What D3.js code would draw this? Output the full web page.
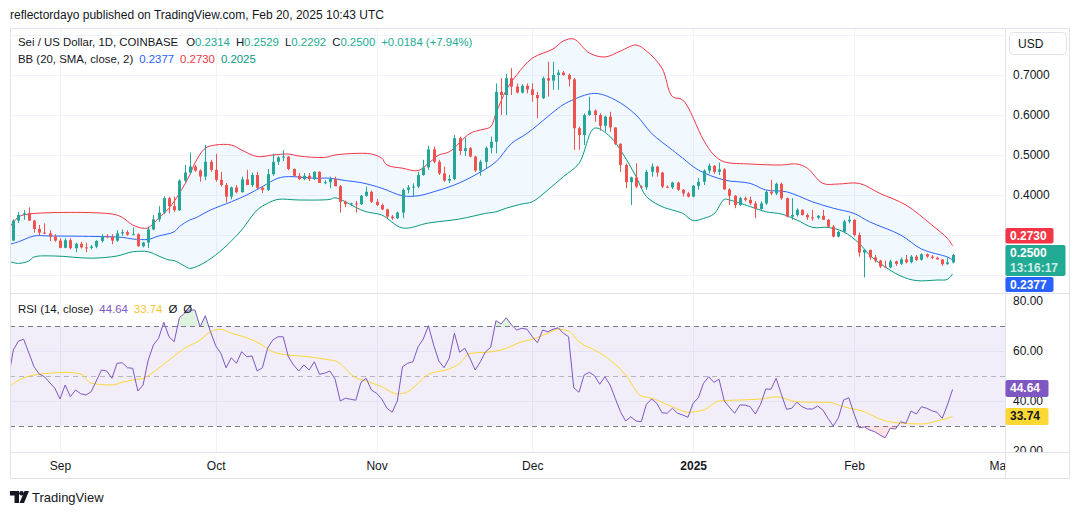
<!DOCTYPE html>
<html>
<head>
<meta charset="utf-8">
<script src="https://d3js.org/d3.v7.min.js"></script>
<style>
  body { margin: 0; background: #ffffff; }
  svg { display: block; font-family: "Liberation Sans", Arial, sans-serif; }
</style>
</head>
<body>
<script>
// ---- data (SEI/USD daily, Coinbase) ----
// candles are [open, high, low, close], one per day starting Aug 23 2024
var augCandles = [
  [.286,.339,.285,.336],[.336,.358,.330,.350],[.350,.362,.338,.354],[.354,.369,.335,.336],
  [.336,.338,.306,.315],[.315,.325,.298,.306],[.306,.329,.302,.304],[.304,.312,.285,.296],
  [.296,.302,.283,.286]
];
var sepCandles = [
  [.286,.292,.267,.268],[.268,.292,.267,.287],[.287,.292,.264,.267],[.267,.281,.257,.278],
  [.278,.283,.266,.269],[.269,.281,.257,.268],[.268,.275,.264,.271],[.271,.287,.267,.285],
  [.285,.302,.281,.297],[.297,.302,.292,.295],[.295,.302,.277,.286],[.286,.312,.283,.304],
  [.304,.314,.298,.307],[.307,.312,.298,.301],[.301,.319,.300,.302],[.302,.304,.271,.272],
  [.272,.283,.269,.281],[.281,.321,.267,.314],[.314,.350,.312,.339],[.339,.372,.333,.356],
  [.356,.397,.352,.392],[.392,.396,.354,.372],[.372,.396,.358,.362],[.362,.439,.360,.436],
  [.436,.475,.430,.456],[.456,.506,.452,.471],[.471,.475,.458,.461],[.461,.464,.433,.446],
  [.446,.525,.437,.483],[.483,.488,.458,.463]
];
var octCandles = [
  [.463,.503,.433,.438],[.438,.458,.421,.425],[.425,.430,.381,.396],[.396,.421,.389,.419],
  [.419,.425,.404,.407],[.407,.446,.406,.439],[.439,.463,.425,.425],[.425,.456,.420,.450],
  [.450,.458,.415,.418],[.418,.423,.405,.413],[.413,.465,.410,.452],[.452,.503,.448,.483],
  [.483,.497,.475,.494],[.494,.512,.485,.496],[.496,.497,.462,.465],[.465,.466,.446,.448],
  [.448,.455,.437,.440],[.440,.455,.437,.448],[.448,.455,.435,.440],[.440,.459,.437,.458],
  [.458,.459,.430,.430],[.430,.437,.427,.432],[.432,.446,.417,.440],[.440,.446,.422,.422],
  [.422,.425,.356,.383],[.383,.386,.370,.377],[.377,.381,.373,.379],[.379,.385,.356,.377],
  [.377,.400,.375,.398],[.398,.421,.396,.408],[.408,.411,.380,.383]
];
var novCandles = [
  [.383,.390,.372,.375],[.375,.379,.362,.364],[.364,.366,.342,.346],[.346,.350,.338,.342],
  [.342,.358,.340,.356],[.356,.417,.342,.413],[.413,.425,.404,.419],[.419,.429,.396,.421],
  [.421,.458,.417,.450],[.450,.488,.448,.469],[.469,.523,.463,.514],[.514,.521,.479,.483],
  [.483,.488,.450,.454],[.454,.471,.433,.436],[.436,.450,.430,.440],[.440,.550,.437,.542],
  [.542,.546,.500,.510],[.510,.543,.498,.517],[.517,.520,.494,.496],[.496,.498,.458,.461],
  [.461,.488,.448,.483],[.483,.521,.467,.518],[.518,.546,.504,.533],[.533,.679,.504,.658],
  [.658,.692,.600,.650],[.650,.703,.600,.692],[.692,.717,.650,.671],[.671,.679,.654,.656],
  [.656,.677,.654,.673],[.673,.679,.654,.664]
];
var decCandles = [
  [.664,.679,.633,.650],[.650,.658,.592,.642],[.642,.696,.640,.692],[.692,.733,.646,.686],
  [.686,.733,.663,.700],[.700,.713,.663,.706],[.706,.710,.698,.700],[.700,.704,.671,.689],
  [.689,.692,.513,.567],[.567,.571,.513,.550],[.550,.604,.525,.600],[.600,.646,.598,.611],
  [.611,.614,.583,.600],[.600,.604,.561,.573],[.573,.598,.558,.596],[.596,.608,.558,.569],
  [.569,.569,.525,.528],[.528,.529,.458,.475],[.475,.479,.417,.432],[.432,.446,.375,.444],
  [.444,.479,.417,.421],[.421,.424,.417,.419],[.419,.463,.413,.458],[.458,.479,.446,.471],
  [.471,.473,.446,.456],[.456,.458,.417,.421],[.421,.424,.417,.419],[.419,.433,.415,.431],
  [.431,.433,.410,.413],[.413,.415,.396,.404],[.404,.408,.394,.396]
];
var janCandles = [
  [.396,.425,.394,.423],[.423,.442,.413,.433],[.433,.464,.425,.461],[.461,.479,.454,.473],
  [.473,.475,.453,.458],[.458,.481,.450,.464],[.464,.467,.413,.414],[.414,.417,.375,.398],
  [.398,.400,.367,.375],[.375,.396,.373,.392],[.392,.396,.384,.388],[.388,.396,.375,.379],
  [.379,.385,.342,.365],[.365,.384,.363,.379],[.379,.411,.375,.408],[.408,.438,.400,.404],
  [.404,.431,.400,.428],[.428,.431,.388,.392],[.392,.394,.344,.346],[.346,.392,.338,.350],
  [.350,.367,.346,.363],[.363,.364,.349,.350],[.350,.354,.338,.344],[.344,.363,.336,.343],
  [.343,.350,.339,.348],[.348,.363,.338,.338],[.338,.340,.318,.321],[.321,.325,.294,.296],
  [.296,.310,.294,.308],[.308,.338,.306,.334],[.334,.348,.329,.338]
];
var febCandles = [
  [.338,.339,.296,.300],[.300,.306,.246,.256],[.256,.264,.194,.263],[.263,.263,.238,.244],
  [.244,.250,.231,.236],[.236,.238,.217,.221],[.221,.236,.217,.219],[.219,.238,.217,.234],
  [.234,.236,.223,.228],[.228,.244,.225,.239],[.239,.250,.229,.232],[.232,.250,.229,.246],
  [.246,.250,.235,.238],[.238,.254,.236,.252],[.252,.254,.243,.246],[.246,.250,.240,.243],
  [.243,.246,.238,.239],[.239,.240,.223,.227],[.227,.244,.226,.2314],[.2314,.2529,.2292,.2500]
];

// Bollinger bands (20, 2) as [day index, value]
var upperBand = [[-0.6,.321],[1,.345],[3,.3525],[19,.3525],[21,.344],[23,.325],[25,.317],[26,.318],
  [28,.342],[30,.367],[32,.404],[34,.45],[35,.48],[37,.517],[39,.525],[42,.525],[44,.5125],[47,.496],
  [50,.50],[53,.5025],[55,.4975],[60,.494],[62,.50],[66,.504],[69,.5025],[71,.492],[72,.475],[75,.467],
  [78,.461],[80,.479],[82,.50],[84,.508],[88,.554],[90,.5625],[92,.571],[93,.604],[95,.6625],[97,.70],
  [100,.742],[104,.765],[106,.785],[108,.79],[111,.755],[114,.745],[117,.76],[120,.775],[122,.76],
  [125,.717],[127,.646],[129,.6375],[133,.5375],[135,.50],[137,.483],[142,.4775],[148,.475],[151,.4775],
  [153,.467],[156,.429],[159,.4275],[163,.429],[167,.404],[172,.375],[177,.325],[180,.2915],[181,.273]];
var basisBand = [[-0.6,.277],[1,.283],[4,.2975],[7,.2975],[17,.296],[21,.294],[23,.29],[26,.289],
  [28,.2975],[31,.308],[32,.321],[34,.3375],[35,.342],[38,.3625],[42,.383],[45,.40],[48,.421],[51,.442],
  [53,.446],[58,.442],[61,.442],[64,.436],[67,.431],[71,.417],[75,.398],[78,.398],[81,.408],[85,.425],
  [89,.45],[93,.483],[96,.529],[99,.554],[103,.596],[105,.617],[107,.633],[112,.654],[116,.6375],
  [120,.60],[123,.554],[127,.5125],[129,.492],[132,.4625],[137,.4375],[142,.429],[145,.4125],[149,.408],
  [154,.383],[158,.367],[162,.354],[165,.333],[171,.30],[175,.265],[180,.245],[181,.2377]];
var lowerBand = [[-0.6,.233],[1,.229],[3,.235],[4,.245],[8,.2475],[15,.242],[20,.2475],[23,.258],
  [26,.258],[28,.2475],[30,.2375],[31,.236],[33,.2225],[34,.2165],[36,.225],[39,.25],[42,.285],
  [44,.3125],[47,.3625],[49,.379],[51,.389],[55,.3875],[61,.389],[62,.393],[64,.383],[66,.369],
  [68,.358],[71,.35],[75,.3175],[80,.33],[86,.34],[91,.354],[93,.358],[95,.367],[98,.3775],[100,.383],
  [103,.4125],[106,.446],[109,.479],[112,.567],[115,.546],[117,.5125],[120,.446],[122,.396],[125,.371],
  [127,.3625],[129,.354],[131,.336],[133,.3415],[135,.3525],[137,.389],[138,.3875],[142,.371],
  [145,.358],[148,.3525],[151,.3375],[154,.319],[157,.319],[160,.308],[163,.279],[165,.25],[167,.229],
  [171,.1975],[174,.186],[178,.1875],[180,.189],[181,.2025]];

// RSI (14) and its moving average, [day index, value]
var rsiPoints = [[-0.6,53.1],[0,60.4],[1,64],[2,64.7],[4,53.7],[5,50.8],[6,49.7],[8,45.1],[9,40.8],
  [10,46.4],[11,41.7],[12,44.4],[13,42.9],[14,42.4],[15,43.7],[17,52.4],[18,52],[19,49.1],[20,55.1],
  [21,55.3],[22,53.3],[23,53.1],[24,44],[25,46.4],[26,56.4],[27,62.4],[28,65.1],[29,71.5],[30,65.7],
  [31,63.7],[32,73.3],[33,75.1],[34,76.4],[35,76.4],[36,69.7],[37,74.1],[38,67.7],[39,62.1],[40,59.1],
  [41,53.3],[42,57.3],[43,55.1],[44,59.7],[45,57.7],[46,58],[47,52],[48,53.3],[49,61.1],[50,64.4],
  [51,65.7],[52,65.7],[53,57.7],[54,54.4],[55,52],[56,54.4],[57,52.4],[58,55.7],[59,50.7],[60,51.1],
  [61,52],[62,48.8],[63,40],[64,41.1],[65,40.7],[66,40.3],[67,47.5],[68,49.1],[69,44.4],[70,43.1],
  [71,40.8],[72,37.1],[73,35.5],[74,40],[75,53.7],[76,55.1],[77,55.7],[78,61.7],[79,64.8],[80,70.1],
  [81,62.4],[82,56],[83,53.3],[84,57.1],[85,67.1],[86,59.5],[87,61.1],[88,57.1],[89,52.4],[90,55.7],
  [91,59.7],[92,61.5],[93,72.1],[94,70.8],[95,73.3],[96,70.4],[97,68.4],[98,69.1],[99,68.7],[100,65.7],
  [101,63.3],[102,68.4],[103,67.7],[104,68.7],[105,69.3],[106,67.1],[107,65.7],[108,45.3],[109,43.5],
  [110,50.4],[111,51.5],[112,50.1],[113,46.7],[114,49.7],[115,46.4],[116,41],[117,35.7],[118,32],
  [119,33.7],[120,32],[121,31.7],[122,38.7],[123,40.8],[124,39.1],[125,35.3],[126,35.1],[127,37.1],
  [128,35.1],[129,34.4],[130,33.5],[131,39.1],[132,41.3],[133,47.1],[134,49.7],[135,47.5],[136,48.7],
  [137,40],[138,37.5],[139,35.1],[140,38.4],[141,38.4],[142,37.7],[143,34.8],[144,38.7],[145,44.8],
  [146,44.7],[147,49.1],[148,42.7],[149,36.7],[150,37.1],[151,39.5],[152,37.7],[153,36.8],[154,36.8],
  [155,38],[156,36.4],[157,33.1],[158,30],[159,33.3],[160,40.4],[161,41.3],[162,35],[163,29.3],
  [164,29.6],[165,28.4],[166,27.7],[167,26.4],[168,25.3],[169,29.1],[170,28.8],[171,31.7],[172,31.1],
  [173,36],[174,34.8],[175,37.7],[176,37.1],[177,36.1],[178,35.5],[179,33.1],[180,38.4],[181,44.64]];
var rsiMaPoints = [[-0.6,46.1],[2,49.3],[4,50.4],[7,51.1],[10,51.5],[13,50.8],[15,47.1],[19,46.4],
  [21,47.5],[23,48.4],[25,49.1],[28,53.1],[30,56.4],[33,61.1],[36,64.4],[38,67.7],[40,68.7],[42,67.1],
  [45,65.3],[48,62.4],[50,59.7],[53,58.4],[57,57.7],[61,56.4],[62,56.1],[66,49.3],[68,48],[71,45.7],
  [74,42.8],[76,43.7],[78,47.1],[80,50.7],[84,52.8],[86,55.1],[88,59.1],[91,59.5],[94,60.4],[98,63.7],
  [100,64.7],[103,67.1],[105,68.7],[107,68],[109,63.7],[112,60.4],[115,56.4],[118,50.4],[121,42],
  [123,41.1],[127,37.7],[130,35.5],[133,36.4],[136,40],[140,40.4],[144,40.8],[147,41.7],[151,39.7],
  [154,39.5],[157,39.5],[160,37.7],[164,35.7],[167,32.8],[170,31.3],[175,30.8],[178,32],[181,33.74]];

var priceTicks = [0.2, 0.3, 0.4, 0.5, 0.6, 0.7, 0.8];
var priceLabels = [0.4, 0.5, 0.6, 0.7];   // 0.2 / 0.3 sit under the value badges
var rsiTicks = [20, 40, 60, 80];
var monthTicks = [[2024,8,'Sep'],[2024,9,'Oct'],[2024,10,'Nov'],[2024,11,'Dec'],[2025,0,'2025'],[2025,1,'Feb'],[2025,2,'Mar']];

// ---- setup ----
var W = 1080, H = 515;
var left = 10, right = 1005, axisRight = 1069;
var priceTop = 28, priceBottom = 293, rsiTop = 294, rsiBottom = 452, timeBottom = 478;
var up = '#26a69a', down = '#ef5350', ink = '#131722', grid = '#f0f3fa', border = '#e0e3eb';

var start = Date.UTC(2024, 7, 23), DAY = 864e5;
function dateOf(i) { return new Date(start + i * DAY); }

var candles = [].concat(augCandles, sepCandles, octCandles, novCandles, decCandles, janCandles, febCandles)
  .map(function (c, i) { return { date: dateOf(i), o: c[0], h: c[1], l: c[2], c: c[3] }; });

var x = d3.scaleUtc().domain([dateOf(0), dateOf(181)]).range([13.3, 952.6]);
var y = d3.scaleLinear().domain([0.2, 0.7]).range([275, 75]);
var yr = d3.scaleLinear().domain([20, 80]).range([451, 301]);

var svg = d3.select('body').append('svg').attr('width', W).attr('height', H);
var defs = svg.append('defs');
defs.append('clipPath').attr('id', 'clipPrice').append('rect')
  .attr('x', left).attr('y', priceTop).attr('width', right - left).attr('height', priceBottom - priceTop);
defs.append('clipPath').attr('id', 'clipRsi').append('rect')
  .attr('x', left).attr('y', rsiTop).attr('width', right - left).attr('height', rsiBottom - rsiTop);
defs.append('clipPath').attr('id', 'clipOver').append('rect')
  .attr('x', left).attr('y', rsiTop).attr('width', right - left).attr('height', yr(70) - rsiTop);
defs.append('clipPath').attr('id', 'clipUnder').append('rect')
  .attr('x', left).attr('y', yr(30)).attr('width', right - left).attr('height', rsiBottom - yr(30));
defs.append('clipPath').attr('id', 'clipRsiAxis').append('rect')
  .attr('x', right).attr('y', rsiTop).attr('width', axisRight - right).attr('height', rsiBottom - rsiTop);
defs.append('clipPath').attr('id', 'clipTime').append('rect')
  .attr('x', left).attr('y', rsiBottom).attr('width', right - left).attr('height', timeBottom - rsiBottom);

// header
svg.append('text').attr('x', 10).attr('y', 19).attr('font-size', 12).attr('fill', ink)
  .text('reflectordayo published on TradingView.com, Feb 20, 2025 10:43 UTC');

// gridlines
var gridG = svg.append('g');
gridG.selectAll('line.hp').data(priceTicks).join('line')
  .attr('x1', left).attr('x2', right).attr('y1', function (d) { return Math.round(y(d)) + 0.5; })
  .attr('y2', function (d) { return Math.round(y(d)) + 0.5; }).attr('stroke', grid);
gridG.selectAll('line.hr').data(rsiTicks.filter(function (d) { return d > 20 && d < 80; })).join('line')
  .attr('x1', left).attr('x2', right).attr('y1', function (d) { return Math.round(yr(d)) + 0.5; })
  .attr('y2', function (d) { return Math.round(yr(d)) + 0.5; }).attr('stroke', grid);
gridG.selectAll('line.v').data(monthTicks.slice(0, 6)).join('line')
  .attr('x1', function (d) { return Math.round(x(new Date(Date.UTC(d[0], d[1], 1)))) + 0.5; })
  .attr('x2', function (d) { return Math.round(x(new Date(Date.UTC(d[0], d[1], 1)))) + 0.5; })
  .attr('y1', priceTop).attr('y2', rsiBottom).attr('stroke', grid);

// ---- price pane ----
var pg = svg.append('g').attr('clip-path', 'url(#clipPrice)');
var curve = d3.curveCatmullRom.alpha(0.5);
var bandLine = d3.line().x(function (d) { return x(dateOf(d[0])); }).y(function (d) { return y(d[1]); }).curve(curve);
var fillPath = bandLine(upperBand) + 'L' + bandLine(lowerBand.slice().reverse()).slice(1) + 'Z';
pg.append('path').attr('d', fillPath).attr('fill', 'rgba(33,150,243,0.06)');
pg.append('path').attr('d', bandLine(upperBand)).attr('fill', 'none').attr('stroke', '#f23645').attr('stroke-width', 1);
pg.append('path').attr('d', bandLine(basisBand)).attr('fill', 'none').attr('stroke', '#2962ff').attr('stroke-width', 1);
pg.append('path').attr('d', bandLine(lowerBand)).attr('fill', 'none').attr('stroke', '#089981').attr('stroke-width', 1);

function cx(d) { return Math.round(x(d.date)); }
function col(d) { return d.c >= d.o ? up : down; }
pg.selectAll('line.wick').data(candles).join('line')
  .attr('x1', function (d) { return cx(d) + 0.5; }).attr('x2', function (d) { return cx(d) + 0.5; })
  .attr('y1', function (d) { return y(d.h); }).attr('y2', function (d) { return y(d.l); })
  .attr('stroke', col);
pg.selectAll('rect.body').data(candles).join('rect')
  .attr('x', function (d) { return cx(d) - 1; }).attr('width', 3)
  .attr('y', function (d) { return y(Math.max(d.o, d.c)); })
  .attr('height', function (d) { return Math.max(1, Math.abs(y(d.o) - y(d.c))); })
  .attr('fill', col);

// ---- RSI pane ----
var rg = svg.append('g');
rg.append('rect').attr('x', left).attr('width', right - left).attr('y', yr(70)).attr('height', yr(30) - yr(70))
  .attr('fill', 'rgba(126,87,194,0.1)');
[70, 30].forEach(function (v) {
  rg.append('line').attr('x1', left).attr('x2', right).attr('y1', Math.round(yr(v)) + 0.5).attr('y2', Math.round(yr(v)) + 0.5)
    .attr('stroke', '#787b86').attr('stroke-dasharray', '5,4');
});
rg.append('line').attr('x1', left).attr('x2', right).attr('y1', Math.round(yr(50)) + 0.5).attr('y2', Math.round(yr(50)) + 0.5)
  .attr('stroke', 'rgba(120,123,134,0.5)').attr('stroke-dasharray', '5,4');

var rsiX = function (d) { return x(dateOf(d[0])); };
rg.append('path').attr('clip-path', 'url(#clipOver)')
  .attr('d', d3.area().x(rsiX).y0(yr(70)).y1(function (d) { return yr(d[1]); })(rsiPoints))
  .attr('fill', 'rgba(76,175,80,0.18)');
rg.append('path').attr('clip-path', 'url(#clipUnder)')
  .attr('d', d3.area().x(rsiX).y0(yr(30)).y1(function (d) { return yr(d[1]); })(rsiPoints))
  .attr('fill', 'rgba(242,54,69,0.15)');
var rsiLine = d3.line().x(rsiX).y(function (d) { return yr(d[1]); });
rg.append('path').attr('clip-path', 'url(#clipRsi)').attr('d', rsiLine.curve(d3.curveMonotoneX)(rsiMaPoints))
  .attr('fill', 'none').attr('stroke', '#fdd835').attr('stroke-width', 1);
rg.append('path').attr('clip-path', 'url(#clipRsi)').attr('d', rsiLine.curve(d3.curveLinear)(rsiPoints))
  .attr('fill', 'none').attr('stroke', '#7e57c2').attr('stroke-width', 1);

// ---- frame ----
var fr = svg.append('g').attr('stroke', border).attr('fill', 'none');
fr.append('rect').attr('x', left + 0.5).attr('y', priceTop + 0.5).attr('width', axisRight - left).attr('height', timeBottom - priceTop);
fr.append('line').attr('x1', right + 0.5).attr('x2', right + 0.5).attr('y1', priceTop).attr('y2', timeBottom);
fr.append('line').attr('x1', left).attr('x2', axisRight).attr('y1', priceBottom + 0.5).attr('y2', priceBottom + 0.5);
fr.append('line').attr('x1', left).attr('x2', axisRight).attr('y1', rsiBottom + 0.5).attr('y2', rsiBottom + 0.5);

// ---- axes ----
var pAxis = svg.append('g').attr('transform', 'translate(' + right + ',0)')
  .call(d3.axisRight(y).tickValues(priceLabels).tickFormat(d3.format('.4f')).tickSize(0).tickPadding(8));
pAxis.select('.domain').remove();
pAxis.selectAll('text').attr('font-size', 12).attr('fill', ink).attr('font-family', null);

var rAxis = svg.append('g').attr('clip-path', 'url(#clipRsiAxis)').append('g')
  .attr('transform', 'translate(' + right + ',0)')
  .call(d3.axisRight(yr).tickValues(rsiTicks).tickFormat(d3.format('.2f')).tickSize(0).tickPadding(8));
rAxis.select('.domain').remove();
rAxis.selectAll('text').attr('font-size', 12).attr('fill', ink).attr('font-family', null);

var tAxis = svg.append('g').attr('clip-path', 'url(#clipTime)').append('g')
  .attr('transform', 'translate(0,' + rsiBottom + ')')
  .call(d3.axisBottom(x).tickValues(monthTicks.map(function (d) { return new Date(Date.UTC(d[0], d[1], 1)); }))
    .tickFormat(function (d, i) { return monthTicks[i][2]; }).tickSize(0).tickPadding(9));
tAxis.select('.domain').remove();
tAxis.selectAll('text').attr('font-size', 12).attr('fill', ink).attr('font-family', null)
  .attr('font-weight', function (d, i) { return monthTicks[i][2] === '2025' ? 'bold' : null; });

// USD button
svg.append('rect').attr('x', 1009.5).attr('y', 32.5).attr('width', 57).attr('height', 22).attr('rx', 4)
  .attr('fill', '#fff').attr('stroke', border);
svg.append('text').attr('x', 1018).attr('y', 48).attr('font-size', 12).attr('fill', ink).text('USD');

// ---- value badges on the axes ----
var last = candles[candles.length - 1];
var lastUpper = upperBand[upperBand.length - 1][1];
var lastBasis = basisBand[basisBand.length - 1][1];
var closeTop = Math.round(y(last.c)) - 10;
function badge(yTop, h, w, fill, lines, textFill) {
  svg.append('rect').attr('x', right + 0.5).attr('y', yTop).attr('width', w).attr('height', h).attr('rx', 2).attr('fill', fill);
  lines.forEach(function (t, i) {
    svg.append('text').attr('x', right + 5).attr('y', yTop + 12 + i * 15).attr('font-size', 12)
      .attr('font-weight', 'bold').attr('fill', textFill || '#fff').attr('fill-opacity', i ? 0.8 : 1).text(t);
  });
}
badge(closeTop - 17, 15.5, 48, '#f23645', [d3.format('.4f')(lastUpper)]);
badge(closeTop, 31, 60, '#22ab94', [d3.format('.4f')(last.c), '13:16:17']);
badge(closeTop + 32, 15, 48, '#2962ff', [d3.format('.4f')(lastBasis)]);
var lastRsi = rsiPoints[rsiPoints.length - 1][1];
var lastMa = rsiMaPoints[rsiMaPoints.length - 1][1];
badge(Math.round(yr(lastRsi)) - 9, 17, 43, '#7e57c2', [d3.format('.2f')(lastRsi)]);
badge(Math.round(yr(lastMa)) - 9, 17, 43, '#fdd835', [d3.format('.2f')(lastMa)], ink);

// ---- legends ----
function legend(yPos, parts) {
  var t = svg.append('text').attr('x', 18).attr('y', yPos).attr('font-size', 11.4);
  parts.forEach(function (p) {
    t.append('tspan').attr('dx', p[2] || 0).attr('fill', p[1]).text(p[0]);
  });
}
var g1 = '#22ab94';
legend(46, [['Sei / US Dollar, 1D, COINBASE', ink], ['O', ink, 8], ['0.2314', g1], ['H', ink, 6], ['0.2529', g1],
  ['L', ink, 6], ['0.2292', g1], ['C', ink, 6], ['0.2500', g1], ['+0.0184 (+7.94%)', g1, 6]]);
legend(63, [['BB (20, SMA, close, 2)', ink], [d3.format('.4f')(lastBasis), '#2962ff', 6],
  [d3.format('.4f')(lastUpper), '#f23645', 6], [d3.format('.4f')(lowerBand[lowerBand.length - 1][1]), '#089981', 6]]);
legend(313, [['RSI (14, close)', ink], [d3.format('.2f')(lastRsi), '#7e57c2', 6],
  [d3.format('.2f')(lastMa), '#f9c62b', 6], ['Ø', ink, 6], ['Ø', ink, 6]]);

// ---- TradingView mark ----
var logo = svg.append('g').attr('fill', ink);
logo.append('path').attr('d', 'M10 491h9v12h-4.5v-7.5H10z');
logo.append('circle').attr('cx', 21.5).attr('cy', 493.3).attr('r', 2.3);
logo.append('path').attr('d', 'M24.5 491h4.5l-5 12h-4.5z');
svg.append('text').attr('x', 32).attr('y', 502).attr('font-size', 13).attr('fill', ink).text('TradingView');
</script>
</body>
</html>
